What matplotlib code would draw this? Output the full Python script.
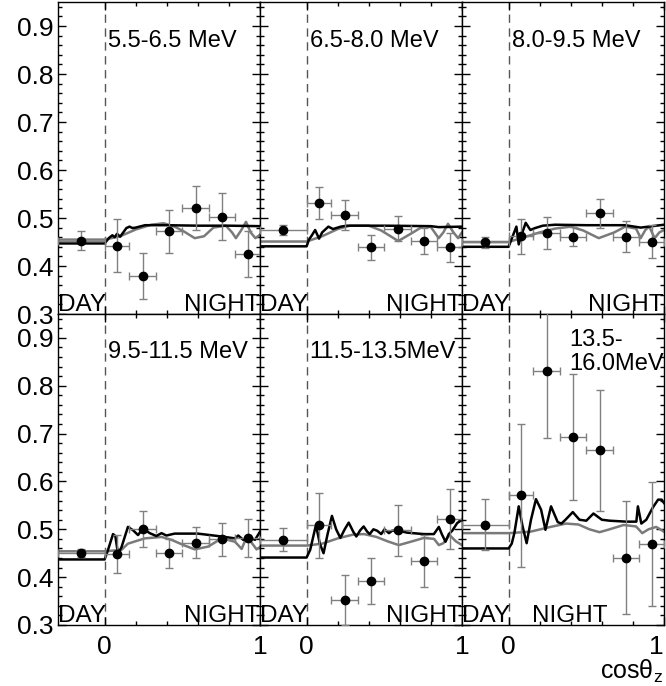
import numpy as np
import matplotlib
matplotlib.use('Agg')
import matplotlib.pyplot as plt
from matplotlib.ticker import MultipleLocator, FixedLocator

plt.rcParams['font.family'] = ['Liberation Sans', 'DejaVu Sans']
plt.rcParams['mathtext.fontset'] = 'custom'
plt.rcParams['mathtext.rm'] = 'Liberation Sans'
plt.rcParams['mathtext.it'] = 'Liberation Sans:italic'

# 能量区间
energy_labels = ['5.5-6.5 MeV', '6.5-8.0 MeV', '8.0-9.5 MeV',
                 '9.5-11.5 MeV', '11.5-13.5MeV', '13.5-\n16.0MeV']

# 数据点 (day + 6 个 night bin)
day_x = -0.15
day_xerr = 0.15
night_x = [0.08, 0.245, 0.415, 0.585, 0.755, 0.92]
night_xerr = [0.08, 0.085, 0.085, 0.085, 0.085, 0.08]

day_rate = [0.453, 0.475, 0.449, 0.451, 0.478, 0.510]
day_err = [0.019, 0.011, 0.011, 0.008, 0.024, 0.053]

night_rate = [[0.442, 0.379, 0.472, 0.521, 0.503, 0.425],
              [0.531, 0.506, 0.439, 0.478, 0.452, 0.439],
              [0.462, 0.469, 0.461, 0.510, 0.461, 0.451],
              [0.448, 0.501, 0.450, 0.472, 0.479, 0.482],
              [0.508, 0.352, 0.392, 0.498, 0.434, 0.521],
              [0.571, 0.831, 0.693, 0.665, 0.441, 0.469]]
night_err = [[0.055, 0.048, 0.044, 0.045, 0.049, 0.047],
             [0.033, 0.031, 0.026, 0.026, 0.027, 0.030],
             [0.036, 0.033, 0.020, 0.030, 0.032, 0.034],
             [0.040, 0.038, 0.030, 0.032, 0.035, 0.040],
             [0.067, 0.052, 0.049, 0.053, 0.055, 0.063],
             [0.150, 0.140, 0.131, 0.127, 0.118, 0.130]]

# 模型曲线 (黑线)
black_x = [[-0.3, 0, 0.03, 0.05, 0.065, 0.08, 0.1, 0.14, 0.16, 0.18, 0.2, 0.26, 0.4, 0.6, 0.8, 1.0],
           [-0.3, 0, 0.015, 0.03, 0.055, 0.08, 0.1, 0.14, 0.17, 0.22, 0.26, 0.5, 0.8, 0.85, 1.0],
           [-0.3, 0, 0.02, 0.05, 0.065, 0.08, 0.11, 0.14, 0.17, 0.22, 0.3, 0.5, 0.75, 0.85, 1.0],
           [-0.3, 0, 0.022, 0.054, 0.069, 0.086, 0.108, 0.15, 0.183, 0.215, 0.247, 0.29, 0.333,
            0.366, 0.398, 0.45, 0.6, 0.753, 0.839, 0.86, 0.892, 0.925, 0.968, 1.0],
           [-0.3, 0, 0.023, 0.06, 0.085, 0.109, 0.135, 0.163, 0.19, 0.217, 0.245, 0.271, 0.3, 0.32,
            0.345, 0.367, 0.39, 0.406, 0.43, 0.454, 0.48, 0.501, 0.53, 0.55, 0.593, 0.647, 0.755,
            0.819, 0.851, 0.87, 0.894, 0.915, 0.937, 0.969, 1.0],
           [-0.3, 0, 0.02, 0.037, 0.065, 0.09, 0.116, 0.144, 0.176, 0.209, 0.237, 0.273, 0.316, 0.34,
            0.366, 0.413, 0.456, 0.5, 0.546, 0.6, 0.65, 0.757, 0.822, 0.832, 0.854, 0.886, 0.929,
            0.962, 0.985, 1.0]]
black_y = [[0.447, 0.447, 0.459, 0.464, 0.46, 0.467, 0.461, 0.479, 0.482, 0.479, 0.48, 0.485, 0.485, 0.484, 0.484, 0.483],
           [0.441, 0.441, 0.455, 0.462, 0.475, 0.457, 0.47, 0.482, 0.477, 0.482, 0.484, 0.484, 0.483, 0.481, 0.482],
           [0.44, 0.44, 0.457, 0.482, 0.445, 0.462, 0.49, 0.475, 0.479, 0.484, 0.486, 0.485, 0.485, 0.48, 0.486],
           [0.437, 0.437, 0.457, 0.49, 0.486, 0.449, 0.462, 0.505, 0.498, 0.488, 0.502, 0.492, 0.486,
            0.492, 0.487, 0.491, 0.491, 0.485, 0.481, 0.487, 0.478, 0.484, 0.478, 0.495],
           [0.441, 0.441, 0.457, 0.509, 0.47, 0.45, 0.49, 0.528, 0.5, 0.482, 0.5, 0.514, 0.495, 0.485,
            0.498, 0.506, 0.495, 0.49, 0.5, 0.497, 0.49, 0.5, 0.492, 0.497, 0.497, 0.493, 0.49,
            0.49, 0.505, 0.49, 0.474, 0.49, 0.497, 0.513, 0.52],
           [0.46, 0.46, 0.47, 0.492, 0.548, 0.506, 0.471, 0.52, 0.563, 0.541, 0.499, 0.548, 0.515, 0.512,
            0.52, 0.536, 0.52, 0.518, 0.533, 0.52, 0.518, 0.516, 0.516, 0.548, 0.512, 0.52, 0.546,
            0.562, 0.562, 0.555]]

# 模型曲线 (灰线)
gray_x = [[-0.3, 0, 0.1, 0.2, 0.3, 0.38, 0.45, 0.51, 0.58, 0.64, 0.7, 0.78, 0.82, 0.845, 0.88, 0.91, 0.94, 0.97, 1.0],
          [-0.3, 0, 0.1, 0.2, 0.28, 0.4, 0.48, 0.59, 0.68, 0.75, 0.8, 0.85, 0.88, 0.91, 0.945, 0.975, 1.0],
          [-0.3, 0, 0.1, 0.2, 0.3, 0.4, 0.48, 0.58, 0.68, 0.75, 0.82, 0.85, 0.88, 0.905, 0.94, 0.97, 1.0],
          [-0.3, 0, 0.108, 0.15, 0.258, 0.366, 0.43, 0.516, 0.58, 0.667, 0.753, 0.839, 0.882, 0.914, 0.946, 0.978, 1.0],
          [-0.3, 0, 0.1, 0.2, 0.3, 0.37, 0.45, 0.52, 0.593, 0.67, 0.755, 0.82, 0.851, 0.88, 0.92, 0.96, 1.0],
          [-0.3, 0, 0.14, 0.27, 0.37, 0.45, 0.52, 0.585, 0.65, 0.74, 0.82, 0.86, 0.9, 0.95, 1.0]]
gray_y = [[0.455, 0.455, 0.462, 0.476, 0.486, 0.489, 0.482, 0.472, 0.458, 0.462, 0.48, 0.484, 0.47, 0.458, 0.475, 0.492, 0.47, 0.458, 0.465],
          [0.451, 0.451, 0.462, 0.477, 0.484, 0.484, 0.474, 0.452, 0.469, 0.483, 0.481, 0.458, 0.47, 0.488, 0.47, 0.458, 0.47],
          [0.45, 0.45, 0.46, 0.47, 0.478, 0.482, 0.474, 0.458, 0.47, 0.482, 0.478, 0.458, 0.475, 0.482, 0.458, 0.47, 0.475],
          [0.454, 0.454, 0.457, 0.47, 0.481, 0.484, 0.478, 0.466, 0.458, 0.464, 0.481, 0.474, 0.459, 0.484, 0.472, 0.458, 0.463],
          [0.466, 0.466, 0.47, 0.481, 0.489, 0.49, 0.484, 0.475, 0.467, 0.474, 0.482, 0.48, 0.467, 0.471, 0.488, 0.475, 0.467],
          [0.492, 0.492, 0.495, 0.505, 0.512, 0.51, 0.5, 0.494, 0.5, 0.509, 0.506, 0.492, 0.5, 0.505, 0.495]]

# 版面 (像素 -> 比例)
W, H = 666, 686
lefts = [58, 260, 462]
pw = 202
rows = [(2, 314), (314, 625)]

fig = plt.figure(figsize=(W / 100, H / 100), dpi=100)

for i in range(6):
    r, c = divmod(i, 3)
    top, bot = rows[r]
    ax = fig.add_axes([lefts[c] / W, 1 - bot / H, pw / W, (bot - top) / H])
    ax.set_xlim(-0.3, 1.0)
    ax.set_ylim(0.3, 0.95)

    # 模型曲线
    ax.plot(gray_x[i], gray_y[i], color='#7a7a7a', lw=1.8, zorder=2)
    ax.plot(black_x[i], black_y[i], color='black', lw=1.8, zorder=3)

    # 数据点
    ax.errorbar([day_x] + night_x, [day_rate[i]] + night_rate[i],
                xerr=[day_xerr] + night_xerr, yerr=[day_err[i]] + night_err[i],
                fmt='o', color='black', ms=6, ecolor='#808080', elinewidth=1,
                capsize=3, capthick=1, zorder=4)

    ax.axvline(0, color='#555555', lw=1, ls=(0, (6, 4)), zorder=1)

    # 文字
    if i < 5:
        ax.text(0.02, 0.857, energy_labels[i], fontsize=17, va='baseline', ha='left')
    else:
        ax.text(0.39, 0.832, energy_labels[i], fontsize=17, va='baseline', ha='left',
                linespacing=1.15)
    ax.text(-0.298, 0.306, 'DAY', fontsize=17.5, va='baseline', ha='left')
    if i < 5:
        ax.text(0.997, 0.306, 'NIGHT', fontsize=17.5, va='baseline', ha='right')
    else:
        ax.text(0.152, 0.306, 'NIGHT', fontsize=17.5, va='baseline', ha='left')

    # 坐标轴
    ax.xaxis.set_major_locator(FixedLocator([0, 1]))
    ax.xaxis.set_minor_locator(FixedLocator([0.2, 0.4, 0.6, 0.8]))
    ax.yaxis.set_major_locator(MultipleLocator(0.1))
    ax.yaxis.set_minor_locator(MultipleLocator(0.02))
    ax.tick_params(which='both', direction='in', top=True, right=True, width=1)
    ax.tick_params(which='major', length=6)
    ax.tick_params(which='minor', length=3)
    ax.tick_params(axis='both', labelsize=19)
    ax.tick_params(axis='x', pad=7)
    if c == 0:
        ax.set_yticks([0.3, 0.4, 0.5, 0.6, 0.7, 0.8, 0.9])
        ax.set_yticklabels(['0.3', '0.4', '0.5', '0.6', '0.7', '0.8', '0.9'])
    else:
        ax.tick_params(axis='y', labelleft=False)
    if r == 0:
        ax.tick_params(axis='x', labelbottom=False)
    else:
        ax.set_xticklabels(['0', '1'])
        if c == 2:
            ax.get_xticklabels()[1].set_horizontalalignment('right')
    for s in ax.spines.values():
        s.set_linewidth(1)

fig.text(663 / W, 1 - 679 / H, r'cos$\mathrm{\theta}_{\mathrm{z}}$', fontsize=18, ha='right', va='baseline')

plt.savefig('out.png', dpi=100)
